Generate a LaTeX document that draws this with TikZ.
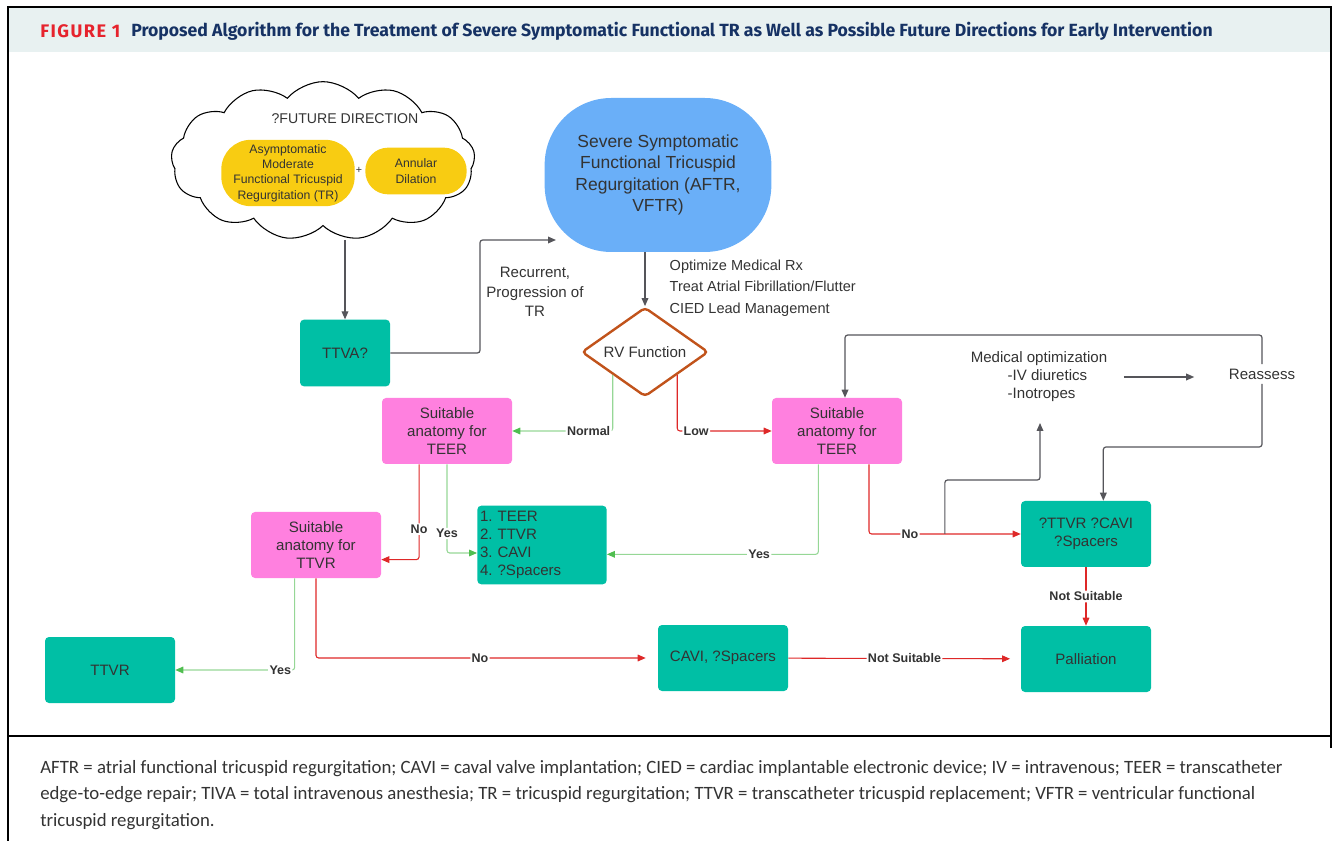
\documentclass[tikz,border=0pt]{standalone}
\usepackage{fontspec}
\setmainfont{Liberation Sans}
\newfontfamily\jfont{Fira Sans}
\newfontfamily\capfont{Carlito}
\usetikzlibrary{positioning,arrows.meta,shapes.geometric,shapes.symbols}

\definecolor{tealbox}{RGB}{0,191,165}
\definecolor{pinkbox}{RGB}{255,128,223}
\definecolor{bluebox}{RGB}{106,175,248}
\definecolor{yelbox}{RGB}{248,204,18}
\definecolor{rvline}{RGB}{193,83,27}
\definecolor{yesline}{RGB}{150,215,150}
\definecolor{yestip}{RGB}{80,190,80}
\definecolor{noline}{RGB}{222,40,40}
\definecolor{grayline}{RGB}{85,85,90}
\definecolor{txt}{RGB}{51,51,51}
\definecolor{band}{RGB}{232,241,241}
\definecolor{navy}{RGB}{22,50,100}
\definecolor{figred}{RGB}{230,35,45}

\tikzset{
  box/.style={rectangle, rounded corners=3pt, minimum width=97.5pt, minimum height=49.5pt,
    align=center, text=txt, font=\fontsize{11.3}{13.5}\selectfont},
  tealnode/.style={box, fill=tealbox},
  pinknode/.style={box, fill=pinkbox},
  lbl/.style={fill=white, inner sep=1pt, text=txt, font=\bfseries\fontsize{9.4}{11}\selectfont},
  yesarr/.style={-{Triangle[length=6pt,width=5pt,color=yestip]}, yesline, line width=0.8pt, rounded corners=2pt},
  noarr/.style={-{Triangle[length=6pt,width=5pt]}, noline, line width=0.8pt, rounded corners=2pt},
  gline/.style={-{Triangle[length=6pt,width=5pt]}, grayline, line width=0.9pt, rounded corners=2pt},
}

\begin{document}
\frenchspacing
\begin{tikzpicture}[x=0.75pt, y=-0.75pt]
  \useasboundingbox (0,0) rectangle (1336,841);

  % frame and header
  \fill[band] (8,7) rectangle (1331,52);
  \draw[line width=1.2pt] (8,841) -- (8,7) -- (1331,7) -- (1331,748);
  \draw[line width=1.8pt] (8,736) -- (1331,736);
  \node[anchor=west, inner sep=0pt, text=figred] (fig) at (40,31)
    {\resizebox{60pt}{!}{\jfont\bfseries\addfontfeature{LetterSpace=8}FIGURE 1}};
  \node[anchor=west, inner sep=0pt, text=navy] (title) at (131,31)
    {\resizebox{811pt}{!}{\jfont\bfseries Proposed Algorithm for the Treatment of Severe Symptomatic Functional TR as Well as Possible Future Directions for Early Intervention}};

  % future direction
  \node[cloud, draw, cloud puffs=13, cloud puff arc=100, minimum width=228pt, minimum height=119pt,
    line width=0.8pt] (cloud) at (323,161) {};
  \node[text=txt, font=\fontsize{10.6}{12}\selectfont] (fut) at (345,119) {?FUTURE DIRECTION};
  \node[fill=yelbox, rounded corners=22pt, minimum width=100pt, minimum height=48pt, align=center,
    text=txt, font=\fontsize{9.2}{11.5}\selectfont] (asym) at (288,173)
    {Asymptomatic\\Moderate\\Functional Tricuspid\\Regurgitation (TR)};
  \node[text=txt, font=\fontsize{8}{9}\selectfont] (plus) at (359,170) {+};
  \node[fill=yelbox, rounded corners=17pt, minimum width=76pt, minimum height=35pt, align=center,
    text=txt, font=\fontsize{9.2}{12}\selectfont] (annul) at (416,171) {Annular\\Dilation};

  % main path
  \node[tealnode, minimum width=67.5pt, minimum height=50pt] (ttva) at (345,353) {TTVA?};
  \node[fill=bluebox, rounded corners=50pt, minimum width=170pt, minimum height=115.5pt, align=center,
    text=txt, font=\fontsize{13.1}{16.1}\selectfont] (sev) at (658,175)
    {Severe Symptomatic\\Functional Tricuspid\\Regurgitation (AFTR,\\VFTR)};
  \node[anchor=west, align=left, text=txt, font=\fontsize{10.9}{16.1}\selectfont] (opt) at (665,288)
    {Optimize Medical Rx\\Treat Atrial Fibrillation/Flutter\\CIED Lead Management};
  \node[align=center, text=txt, font=\fontsize{11.3}{14.6}\selectfont] (recur) at (535,292)
    {Recurrent,\\Progression of\\TR};
  \node[diamond, draw=rvline, fill=white, line width=1.8pt, rounded corners=3pt, aspect=1.42,
    minimum width=95pt, minimum height=67pt, inner sep=0pt, text=txt,
    font=\fontsize{11.3}{13.5}\selectfont] (rv) at (645,352) {RV Function};

  \node[pinknode] (teerL) at (447,431) {Suitable\\anatomy for\\TEER};
  \node[pinknode] (teerR) at (837,431) {Suitable\\anatomy for\\TEER};
  \node[pinknode] (ttvrQ) at (316,545) {Suitable\\anatomy for\\TTVR};
  \node[tealnode, minimum width=97pt, minimum height=59pt, text width=93pt, inner xsep=2pt,
    align=left] (list) at (542,545) {1. TEER\\2. TTVR\\3. CAVI\\4. ?Spacers};
  \node[tealnode] (spc) at (1086,534) {?TTVR ?CAVI\\?Spacers};
  \node[tealnode] (pall) at (1086,659) {Palliation};
  \node[tealnode] (ttvr) at (110,670) {TTVR};
  \node[tealnode] (cavi) at (723,658) {CAVI, ?Spacers};

  \node[align=left, text=txt, font=\fontsize{11.3}{13.5}\selectfont] (medopt) at (1039,377)
    {Medical optimization\\\hspace*{2.45em}-IV diuretics\\\hspace*{2.45em}-Inotropes};
  \node[text=txt, font=\fontsize{11.3}{13.5}\selectfont] (reas) at (1262,374) {Reassess};
  \coordinate (bend) at (1040,480);
  \coordinate (upend) at (1040,423);
  \coordinate (cloudout) at (345,240);
  \coordinate (sevin) at (556,240);

  % connectors
  \draw[gline] (cloudout) -- (ttva.north);
  \draw[gline] (ttva.east) -| (480,240) -- (sevin);
  \draw[gline] (rv.north |- sev.south) -- (rv.north);

  \draw[yesarr] (rv.south west) |- (teerL.east) node[lbl, pos=0.62] {Normal};
  \draw[noarr] (rv.south east) |- (teerR.west) node[lbl, pos=0.6] {Low};

  \draw[noarr] ([xshift=28pt]teerL.south west) |- ([yshift=14pt]ttvrQ.south east)
    node[lbl, pos=0.34] {No};
  \draw[yesarr] (teerL.south) |- ([yshift=-6pt]list.west) node[lbl, pos=0.39] {Yes};
  \draw[yesarr] ([xshift=-14pt]teerR.south) |- ([yshift=-7pt]list.east) node[lbl, pos=0.64] {Yes};
  \draw[noarr] ([xshift=24pt]teerR.south) |- (spc.west) coordinate[pos=0.75] (split)
    node[lbl, pos=0.635] {No};
  \draw[gline] (split) |- (bend) -- (upend);
  \draw[gline, shorten <=9pt, shorten >=22.5pt] (medopt.east) -- (medopt.east -| reas.west);
  \draw[gline] (reas.north) -- ++(0,-29) -| ([xshift=6pt]teerR.north);
  \draw[gline] (reas.south) -- ++(0,63) -| ([xshift=13pt]spc.north);
  \draw[noarr] (spc) -- (pall) node[lbl, midway] {Not Suitable};

  \draw[yesarr] ([xshift=-16pt]ttvrQ.south) |- (ttvr.east) node[lbl, pos=0.56] {Yes};
  \draw[noarr, shorten >=9pt] (ttvrQ.south) |- (cavi.west) node[lbl, pos=0.74] {No};
  \draw[noarr, shorten >=8pt] (cavi) -- (pall) node[lbl, midway] {Not Suitable};

  % caption
  \node[anchor=north west, align=left, inner sep=0pt, text=txt,
    font=\capfont\fontsize{14.1}{20}\selectfont] (cap) at (40,760)
    {AFTR = atrial functional tricuspid regurgitation; CAVI = caval valve implantation; CIED = cardiac implantable electronic device; IV = intravenous; TEER = transcatheter\\
     edge-to-edge repair; TIVA = total intravenous anesthesia; TR = tricuspid regurgitation; TTVR = transcatheter tricuspid replacement; VFTR = ventricular functional\\
     tricuspid regurgitation.};
\end{tikzpicture}
\end{document}
